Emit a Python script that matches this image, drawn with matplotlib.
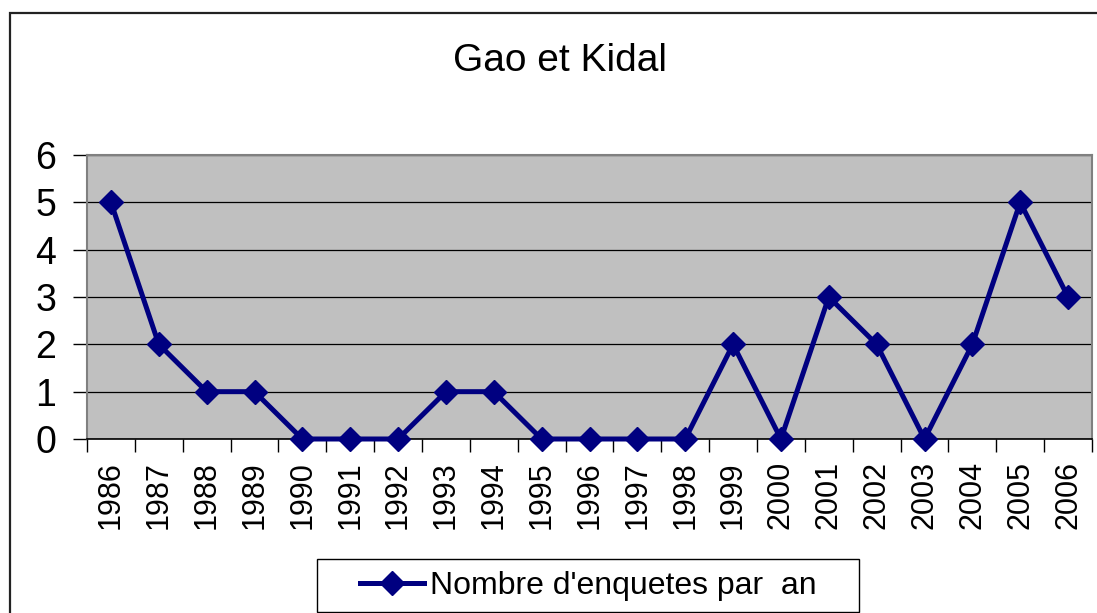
import matplotlib
matplotlib.use("Agg")
import matplotlib.pyplot as plt
from matplotlib.patches import Rectangle

years = ["1986", "1987", "1988", "1989", "1990", "1991", "1992", "1993", "1994",
         "1995", "1996", "1997", "1998", "1999", "2000", "2001", "2002", "2003",
         "2004", "2005", "2006"]
enquetes = [5, 2, 1, 1, 0, 0, 0, 1, 1, 0, 0, 0, 0, 2, 0, 3, 2, 0, 2, 5, 3]

plt.rcParams["font.family"] = ["Liberation Sans", "DejaVu Sans"]

W, H = 1097, 613
fig = plt.figure(figsize=(W / 100, H / 100), dpi=100)


def px_box(x0, y0, x1, y1, **kw):
    """Rectangle given in picture pixels (origin top-left)."""
    return Rectangle((x0 / W, 1 - y1 / H), (x1 - x0) / W, (y1 - y0) / H,
                     transform=fig.transFigure, fill=False, **kw)


# outer chart border: only the left and top edges fall inside the picture
fig.patches.append(px_box(9.5, 13.5, W + 20, H + 20,
                          edgecolor="#222222", linewidth=1.6))
# legend frame
fig.patches.append(px_box(317, 559, 859, 612, edgecolor="black", linewidth=1.0))

ax = fig.add_axes([87 / W, 1 - 439 / H, (1092 - 87) / W, (439 - 155) / H])
ax.set_facecolor("#c0c0c0")

x = range(len(years))
line, = ax.plot(x, enquetes, color="#000080", linewidth=3.6, marker="D",
                markersize=12, clip_on=False, zorder=3)

ax.set_xlim(-0.5, len(years) - 0.5)
ax.set_ylim(0, 6)
ax.set_yticks(range(0, 7))
ax.yaxis.grid(True, color="black", linewidth=0.9)
ax.set_axisbelow(True)

# category boundary ticks, labels centred under points
ax.set_xticks([i - 0.5 for i in range(len(years) + 1)])
ax.set_xticklabels([])
ax.set_xticks(list(x), minor=True)
ax.set_xticklabels(years, minor=True, rotation=90, fontsize=22)
ax.tick_params(axis="x", which="major", length=9, width=1, color="black")
ax.tick_params(axis="x", which="minor", length=0, pad=16)
ax.tick_params(axis="y", length=10, width=1, labelsize=27, pad=12)

for side in ("left", "top", "right"):
    ax.spines[side].set_color("#808080")
    ax.spines[side].set_linewidth(1.5)
ax.spines["bottom"].set_color("black")
ax.spines["bottom"].set_linewidth(1.2)

fig.text(560 / W, 1 - 61 / H, "Gao et Kidal", ha="center", va="center",
         fontsize=28)

leg = fig.legend([line], ["Nombre d'enquetes par  an"], loc="center left",
                 bbox_to_anchor=(360 / W, 1 - 586 / H),
                 fontsize=23, frameon=False, handlelength=2.0,
                 handletextpad=0.2, borderpad=0, borderaxespad=0)

fig.savefig("out.png", dpi=100)
